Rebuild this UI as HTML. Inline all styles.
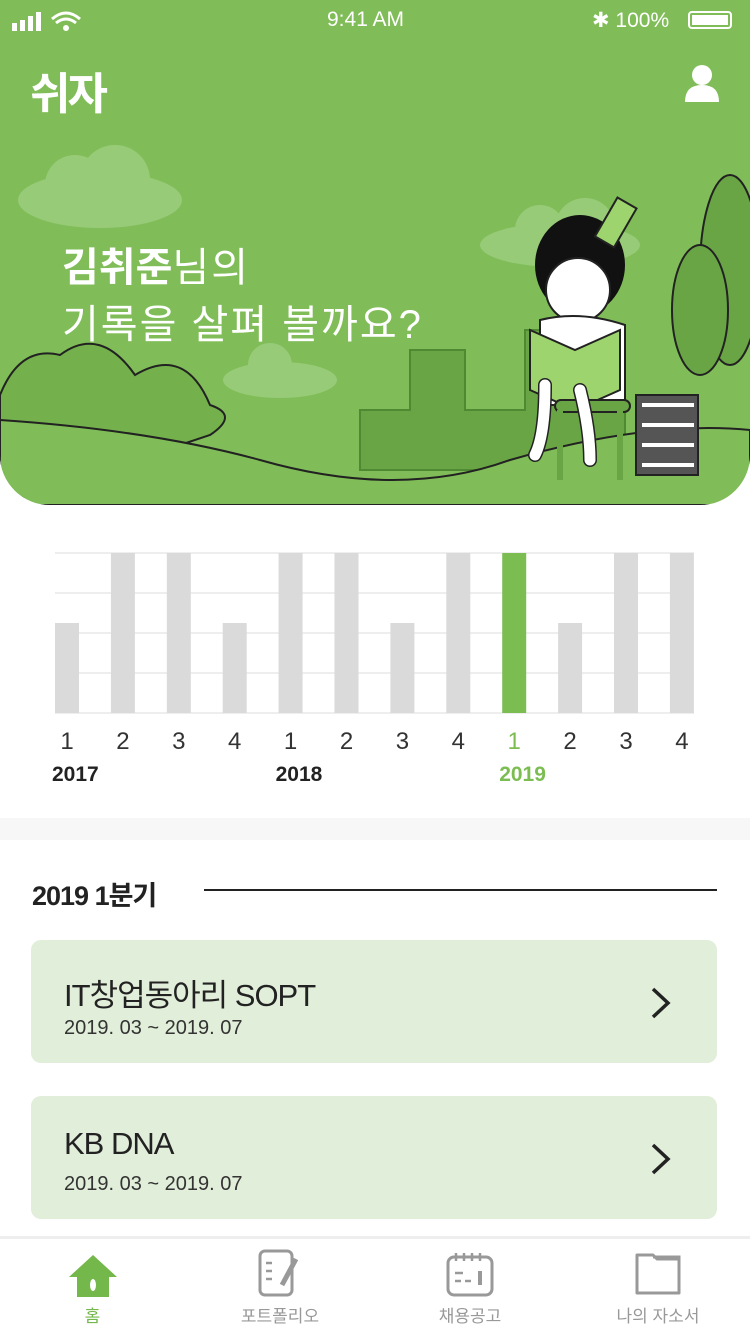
<!DOCTYPE html>
<html><head><meta charset="utf-8">
<style>
body{margin:0;width:750px;height:1334px;overflow:hidden;background:#fff;font-family:"Liberation Sans","Noto Sans CJK KR",sans-serif;position:relative}
.abs{position:absolute}
</style></head><body>
<div class="abs" style="left:0;top:0;width:750px;height:505px;background:#80bd58;border-radius:0 0 50px 50px;overflow:hidden">
<svg width="750" height="505" class="abs" style="left:0;top:0">
<g fill="#98cb78"><ellipse cx="100" cy="200" rx="82" ry="28"/><circle cx="75" cy="185" r="30"/><circle cx="115" cy="180" r="35"/>
<ellipse cx="560" cy="245" rx="80" ry="22"/><circle cx="540" cy="230" r="25"/><circle cx="585" cy="228" r="30"/>
<ellipse cx="280" cy="380" rx="57" ry="18"/><circle cx="270" cy="365" r="22"/></g>
<g fill="#6aa545" stroke="#4f8a32" stroke-width="2"><path d="M360 470V410h50v-60h55v60h60v-80h40v80h60v60z"/></g>
<path d="M0 505V395q20-50 60-40q40-30 75 20q50-30 75 30q30 10 0 30z" fill="#74b14c" stroke="#222" stroke-width="2"/>
<path d="M0 420q150 10 260 40q140 40 250 0q140-40 240-30V505H0z" fill="#80bd58" stroke="#222" stroke-width="2"/>
<ellipse cx="730" cy="270" rx="30" ry="95" fill="#6aa545" stroke="#222" stroke-width="2"/>
<ellipse cx="700" cy="310" rx="28" ry="65" fill="#6aa545" stroke="#222" stroke-width="2"/>
<rect x="636" y="395" width="62" height="80" fill="#555" stroke="#222" stroke-width="2"/>
<g stroke="#fff" stroke-width="4"><line x1="642" y1="405" x2="694" y2="405"/><line x1="642" y1="425" x2="694" y2="425"/><line x1="642" y1="445" x2="694" y2="445"/><line x1="642" y1="465" x2="694" y2="465"/></g>
<ellipse cx="580" cy="265" rx="45" ry="50" fill="#111"/>
<circle cx="578" cy="290" r="32" fill="#fff" stroke="#222" stroke-width="2"/>
<rect x="605" y="200" width="22" height="45" fill="#9ed46d" stroke="#222" stroke-width="2" transform="rotate(30 616 222)"/>
<path d="M540 320q40-10 85 5v80h-85z" fill="#fff" stroke="#222" stroke-width="2"/>
<path d="M530 330l45 20 45-20v60l-45 20-45-20z" fill="#9ed46d" stroke="#222" stroke-width="2"/>
<rect x="555" y="400" width="75" height="12" rx="6" fill="#6aa545" stroke="#222" stroke-width="2"/>
<g stroke="#6aa545" stroke-width="6"><line x1="560" y1="410" x2="560" y2="480"/><line x1="620" y1="410" x2="620" y2="480"/></g>
<path d="M545 385q0 50-10 70M580 390q10 40 10 70" stroke="#222" stroke-width="14" fill="none" stroke-linecap="round"/>
<path d="M545 385q0 50-10 70M580 390q10 40 10 70" stroke="#fff" stroke-width="11" fill="none" stroke-linecap="round"/>
</svg>
</div>
<div class="abs" style="left:0;top:8px;width:750px;height:28px;color:#fff;font-size:21px">
<svg class="abs" style="left:12px;top:3px" width="70" height="22"><rect x="0" y="12" width="5" height="8" fill="#fff"/><rect x="8" y="9" width="5" height="11" fill="#fff"/><rect x="16" y="5" width="5" height="15" fill="#fff"/><rect x="24" y="1" width="5" height="19" fill="#fff"/><path d="M40 8q14-12 28 0M44 12q10-8 20 0" stroke="#fff" stroke-width="3" fill="none"/><circle cx="54" cy="17" r="3" fill="#fff"/></svg>
<span class="abs" style="left:327px;top:0">9:41 AM</span>
<span class="abs" style="left:592px;top:0">✱ 100%</span>
<div class="abs" style="left:688px;top:3px;width:44px;height:18px;border:2px solid #fff;border-radius:4px;box-sizing:border-box;padding:2px"><div style="background:#fff;width:100%;height:100%"></div></div>
</div>
<div class="abs" style="left:30px;top:58px;color:#fff;font-size:44px;font-weight:bold;letter-spacing:-3px">쉬자</div>
<svg class="abs" style="left:684px;top:64px" width="36" height="38"><circle cx="18" cy="11" r="10" fill="#fff"/><path d="M1 38q0-17 17-17t17 17z" fill="#fff"/></svg>
<div class="abs" style="left:62px;top:240px;color:#fff;font-size:40px;line-height:57px;letter-spacing:2px"><b style="letter-spacing:0">김취준</b>님의<br>기록을 살펴 볼까요?</div>

<svg class="abs" style="left:0;top:540px" width="750" height="260" id="chart"></svg>
<script>
const categories=["1","2","3","4","1","2","3","4","1","2","3","4"];
const years=["2017","2018","2019"];
const values=[2.25,4,4,2.25,4,4,2.25,4,4,2.25,4,4];
const selectedIndex=8;
const yTicks=[0,1,2,3,4];
const svg=document.getElementById('chart');const NS='http://www.w3.org/2000/svg';
const y0=173,y1=13,maxV=4;
const y=v=>y0-(v/maxV)*(y0-y1);
const x=i=>55+i*55.9;
function mk(t,a){const e=document.createElementNS(NS,t);for(const k in a)e.setAttribute(k,a[k]);svg.appendChild(e);return e;}
yTicks.forEach(t=>{const l=mk('line',{x1:55,x2:694,y1:y(t),y2:y(t),stroke:'#eeeeee','stroke-width':2});

});
values.forEach((v,i)=>{const r=mk('rect',{x:x(i),y:y(v),width:24,height:y0-y(v),fill:i===selectedIndex?'#7cbd52':'#dadada'});


const t=mk('text',{x:x(i)+12,y:209,'text-anchor':'middle','font-size':24,fill:i===selectedIndex?'#7cbd52':'#333','font-family':'Liberation Sans'});t.textContent=categories[i];

});
years.forEach((yr,j)=>{const t=mk('text',{x:x(j*4)-3,y:241,'font-size':21,'font-weight':'bold',fill:j*4<=selectedIndex&&selectedIndex<j*4+4?'#7cbd52':'#222','font-family':'Liberation Sans'});t.textContent=yr;

});
</script>

<div class="abs" style="left:0;top:818px;width:750px;height:22px;background:#f7f7f7"></div>
<div class="abs" style="left:32px;top:874px;font-size:27px;font-weight:bold;color:#222;letter-spacing:-1px">2019 1분기</div>
<div class="abs" style="left:204px;top:889px;width:513px;height:2px;background:#222"></div>

<div class="abs" style="left:31px;top:940px;width:686px;height:123px;background:#e1eed9;border-radius:10px">
<div class="abs" style="left:33px;top:30px;font-size:31px;color:#222;letter-spacing:-1px">IT창업동아리 SOPT</div>
<div class="abs" style="left:33px;top:77px;font-size:20px;color:#333">2019. 03 ~ 2019. 07</div>
<svg class="abs" style="left:618px;top:46px" width="24" height="34"><path d="M4 3l15 14-15 14" stroke="#222" stroke-width="3.5" fill="none"/></svg>
</div>
<div class="abs" style="left:31px;top:1096px;width:686px;height:123px;background:#e1eed9;border-radius:10px">
<div class="abs" style="left:33px;top:30px;font-size:31px;color:#222;letter-spacing:-1px">KB DNA</div>
<div class="abs" style="left:33px;top:77px;font-size:20px;color:#333">2019. 03 ~ 2019. 07</div>
<svg class="abs" style="left:618px;top:46px" width="24" height="34"><path d="M4 3l15 14-15 14" stroke="#222" stroke-width="3.5" fill="none"/></svg>
</div>

<div class="abs" style="left:0;top:1236px;width:750px;height:98px;background:#fff;border-top:3px solid #eeeeee">
<div class="abs" style="left:45px;top:0;width:95px;height:98px;text-align:center">
<svg width="52" height="44" style="margin-top:14px"><path d="M26 2L2 24h8v20h32V24h8z" fill="#74b74a"/><ellipse cx="26" cy="32" rx="3" ry="6" fill="#fff"/></svg>
<div style="font-size:17px;color:#74b74a;margin-top:0">홈</div></div>
<div class="abs" style="left:220px;top:0;width:120px;height:98px;text-align:center">
<svg width="52" height="48" style="margin-top:10px"><rect x="6" y="2" width="32" height="44" rx="5" fill="none" stroke="#999" stroke-width="3"/><path d="M12 14h6M12 22h6M12 30h6" stroke="#999" stroke-width="2.5"/><path d="M42 10l-14 26" stroke="#999" stroke-width="5"/></svg>
<div style="font-size:17px;color:#999">포트폴리오</div></div>
<div class="abs" style="left:410px;top:0;width:120px;height:98px;text-align:center">
<svg width="52" height="48" style="margin-top:10px"><rect x="4" y="8" width="44" height="38" rx="6" fill="none" stroke="#999" stroke-width="3"/><path d="M12 4v8M20 4v8M28 4v8M36 4v8M11 24h8M11 32h6M21 32h6" stroke="#999" stroke-width="2.5"/><rect x="34" y="22" width="4" height="14" fill="#999"/></svg>
<div style="font-size:17px;color:#999">채용공고</div></div>
<div class="abs" style="left:598px;top:0;width:120px;height:98px;text-align:center">
<svg width="52" height="48" style="margin-top:10px"><path d="M5 6h16l4 4h22v34H5z" fill="none" stroke="#999" stroke-width="3" stroke-linejoin="round"/><path d="M21 8h26v6" stroke="#999" stroke-width="3" fill="none"/></svg>
<div style="font-size:17px;color:#999">나의 자소서</div></div>
</div>
</body></html>
